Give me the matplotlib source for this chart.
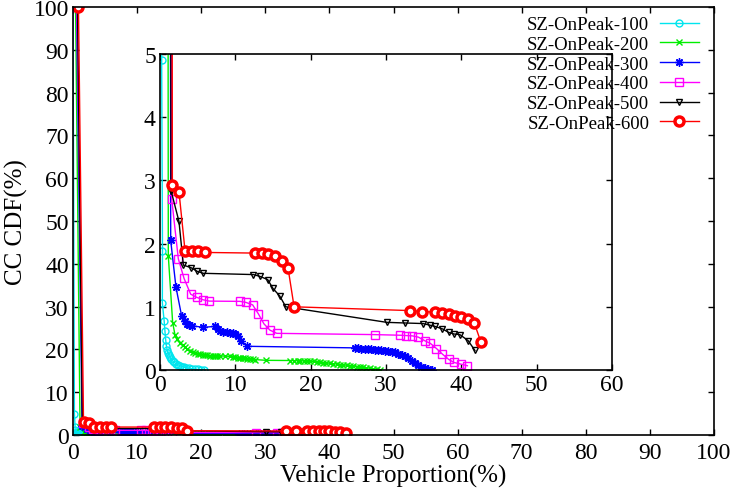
import matplotlib
matplotlib.use("Agg")
import matplotlib.pyplot as plt
from matplotlib.lines import Line2D

plt.rcParams['font.family'] = ['Liberation Serif', 'DejaVu Serif']

labels = ["SZ-OnPeak-100", "SZ-OnPeak-200", "SZ-OnPeak-300",
          "SZ-OnPeak-400", "SZ-OnPeak-500", "SZ-OnPeak-600"]

x100 = [0, 0.22, 0.33, 0.31, 0.55, 0.66, 0.75, 0.85, 0.95, 1.05, 1.2, 1.35, 1.5, 1.7, 1.9,
        2.1, 2.35, 2.6, 2.9, 3.2, 3.5, 3.85, 4.2, 4.6, 5.0, 5.4, 5.8]
y100 = [100, 4.9, 1.89, 1.06, 0.78, 0.61, 0.48, 0.38, 0.32, 0.27, 0.23, 0.2, 0.17, 0.14, 0.12,
        0.1, 0.085, 0.07, 0.055, 0.045, 0.035, 0.027, 0.02, 0.013, 0.008, 0.004, 0.0]

x200 = [0.4, 1.1, 1.68, 2.0, 2.3, 2.65, 3.0, 3.3, 3.65, 4.0, 4.35, 4.65, 5.0, 5.3, 5.65, 6.0,
        6.3, 6.6, 7.0, 7.3, 7.6, 8.0, 8.6, 9.3, 9.7, 10.0, 10.3, 10.6, 11.0, 11.3, 11.6, 12.0,
        12.3, 12.6, 14.1, 17.3, 17.8, 18.3, 18.6, 19.1, 19.5, 19.9, 20.4, 20.8, 21.2, 21.7,
        22.1, 22.6, 23.0, 23.5, 23.9, 24.3, 24.8, 25.2, 25.6, 26.1, 26.5, 27.0, 27.4, 27.9,
        28.3, 28.8, 29.2]
y200 = [100, 1.81, 0.75, 0.55, 0.49, 0.43, 0.39, 0.36, 0.33, 0.305, 0.285, 0.27, 0.26, 0.25,
        0.245, 0.24, 0.235, 0.228, 0.226, 0.225, 0.224, 0.222, 0.22, 0.216, 0.21, 0.2, 0.195,
        0.19, 0.188, 0.185, 0.18, 0.175, 0.17, 0.165, 0.153, 0.15, 0.148, 0.146, 0.145, 0.143,
        0.142, 0.14, 0.135, 0.13, 0.122, 0.117, 0.112, 0.105, 0.1, 0.093, 0.086, 0.08, 0.075,
        0.07, 0.063, 0.055, 0.048, 0.04, 0.034, 0.027, 0.02, 0.012, 0.005]

x300 = [0.55, 1.42, 2.12, 2.88, 3.3, 3.54, 3.9, 4.2, 5.75, 7.3, 7.7, 8.0, 8.4, 8.85, 9.3, 9.7,
        10.0, 10.4, 10.8, 11.6, 25.9, 26.3, 26.7, 27.2, 27.6, 28.0, 28.5, 28.9, 29.4, 29.9,
        30.3, 30.8, 31.2, 31.6, 32.1, 32.5, 32.9, 33.4, 33.8, 34.3, 34.7, 35.2, 35.6, 36.1]
y300 = [100, 2.05, 1.31, 0.85, 0.77, 0.73, 0.71, 0.70, 0.675, 0.69, 0.65, 0.62, 0.605, 0.595,
        0.59, 0.585, 0.57, 0.54, 0.46, 0.375, 0.35, 0.345, 0.34, 0.335, 0.33, 0.325, 0.32,
        0.315, 0.31, 0.306, 0.3, 0.29, 0.28, 0.26, 0.245, 0.227, 0.19, 0.148, 0.11, 0.08,
        0.05, 0.03, 0.015, 0.005]

x400 = [0.6, 1.55, 2.43, 3.19, 4.07, 4.87, 5.75, 6.55, 10.6, 11.4, 12.3, 13.05, 13.8, 14.6,
        15.5, 28.5, 31.9, 32.7, 33.5, 34.3, 35.2, 35.9, 36.7, 37.5, 38.3, 39.0, 39.9, 40.8]
y400 = [100, 2.71, 1.76, 1.45, 1.2, 1.15, 1.11, 1.09, 1.086, 1.07, 1.03, 0.89, 0.73, 0.63,
        0.58, 0.56, 0.55, 0.545, 0.54, 0.52, 0.46, 0.42, 0.34, 0.25, 0.17, 0.12, 0.094, 0.068]

x500 = [0.7, 1.46, 2.52, 3.1, 4.1, 4.96, 5.75, 12.4, 13.3, 14.3, 15.0, 15.9, 16.7, 30.1, 32.5,
        34.9, 35.8, 36.5, 37.5, 38.3, 39.0, 39.8, 40.9, 41.8]
y500 = [100, 2.84, 2.35, 1.66, 1.62, 1.56, 1.53, 1.51, 1.48, 1.43, 1.29, 1.17, 1.0, 0.754,
        0.744, 0.735, 0.71, 0.69, 0.65, 0.596, 0.57, 0.56, 0.465, 0.31]

x600 = [0.85, 1.64, 2.52, 3.32, 4.2, 5.1, 5.97, 12.6, 13.5, 14.4, 15.3, 16.2, 17.0, 17.8, 33.2,
        34.8, 36.5, 37.4, 38.3, 39.2, 40.0, 40.9, 41.7, 42.6]
y600 = [100, 2.93, 2.82, 1.89, 1.89, 1.88, 1.86, 1.85, 1.85, 1.84, 1.81, 1.73, 1.61, 1.0, 0.94,
        0.925, 0.915, 0.9, 0.89, 0.86, 0.84, 0.81, 0.75, 0.44]

series = [(x100, y100), (x200, y200), (x300, y300), (x400, y400), (x500, y500), (x600, y600)]

styles = [
    dict(color='#00e5ee', marker='o', mfc='none', ms=5, mew=1.0),
    dict(color='#00ee00', marker='x', ms=5, mew=1.0),
    dict(color='#0000ff', marker=(8, 2, 0), ms=6, mew=1.0),
    dict(color='#ff00ff', marker='s', mfc='none', ms=5.5, mew=1.0),
    dict(color='#000000', marker='v', mfc='none', ms=5, mew=1.0),
    dict(color='#ff0000', marker='o', mfc='white', ms=6.5, mew=2.5),
]

fig = plt.figure(figsize=(7.36, 4.89), dpi=100)
ax = fig.add_axes([73/736, 1-436/489, (714-73)/736, (436-8)/489])
ins = fig.add_axes([160/736, 1-371/489, (612-160)/736, (371-55)/489])
ins.patch.set_facecolor('none')

for a in (ax, ins):
    for (xs, ys), st in zip(series, styles):
        a.plot(xs, ys, lw=1.0, **st)
    a.tick_params(direction='in', top=True, right=True, length=4, width=1,
                  labelsize=17, pad=3)
    for s in a.spines.values():
        s.set_linewidth(1.2)
ax.tick_params(axis='x', pad=5)

ax.set_xlim(0, 100)
ax.set_ylim(0, 100)
ax.set_xticks(range(0, 101, 10))
ax.set_yticks(range(0, 101, 10))
ax.set_xlabel('Vehicle Proportion(%)', fontsize=18, labelpad=1)
ax.set_ylabel('CC CDF(%)', fontsize=18, labelpad=4)

ins.set_xlim(0, 60)
ins.set_ylim(0, 5)
ins.set_xticks(range(0, 61, 10))
ins.set_yticks(range(0, 6, 1))

handles = [Line2D([], [], lw=1.0, **st) for st in styles]
fig.legend(handles, labels, loc='upper right', bbox_to_anchor=(699/736, 1-17/489),
           frameon=False, markerfirst=False, fontsize=13.5, handlelength=2.1,
           handletextpad=0.55, labelspacing=0.14, borderpad=0, borderaxespad=0)

fig.savefig('out.png', dpi=100)
